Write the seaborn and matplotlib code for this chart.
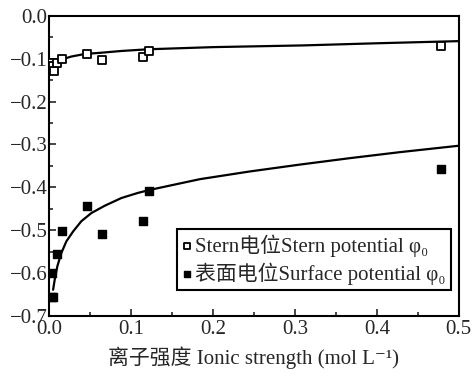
import matplotlib
matplotlib.use("Agg")
import matplotlib.pyplot as plt
import seaborn as sns
from matplotlib.ticker import MultipleLocator

# measured points
stern_x = [0.003, 0.005, 0.006, 0.010, 0.016, 0.046, 0.065, 0.115, 0.122, 0.478]
stern_y = [-0.109, -0.118, -0.129, -0.110, -0.100, -0.088, -0.102, -0.095, -0.081, -0.071]
surf_x = [0.003, 0.005, 0.004, 0.010, 0.016, 0.046, 0.065, 0.115, 0.122, 0.478]
surf_y = [-0.601, -0.655, -0.657, -0.555, -0.502, -0.443, -0.508, -0.478, -0.409, -0.357]

# fitted curves
stern_fit_x = [0.0037, 0.0089, 0.017, 0.027, 0.0435, 0.064, 0.088, 0.121, 0.2, 0.31, 0.4, 0.5]
stern_fit_y = [-0.114, -0.109, -0.101, -0.095, -0.089, -0.086, -0.082, -0.078, -0.073, -0.069, -0.064, -0.059]
surf_fit_x = [0.0049, 0.0069, 0.0101, 0.015, 0.0211, 0.0293, 0.0394, 0.0516, 0.0679,
              0.0882, 0.1085, 0.123, 0.184, 0.245, 0.306, 0.367, 0.428, 0.5]
surf_fit_y = [-0.639, -0.615, -0.584, -0.553, -0.526, -0.503, -0.479, -0.460, -0.443,
              -0.425, -0.413, -0.406, -0.381, -0.363, -0.347, -0.332, -0.318, -0.303]

sns.set_style("ticks")
plt.rcParams["font.family"] = ["Liberation Serif", "DejaVu Serif", "Noto Sans CJK SC"]
plt.rcParams["axes.unicode_minus"] = True

fig = plt.figure(figsize=(4.72, 3.77), dpi=100)
ax = fig.add_axes([0.104, 0.162, 0.868, 0.796])

sns.lineplot(x=stern_fit_x, y=stern_fit_y, ax=ax, color="black", lw=1.6, sort=True)
sns.lineplot(x=surf_fit_x, y=surf_fit_y, ax=ax, color="black", lw=1.6, sort=True)

sns.scatterplot(x=stern_x, y=stern_y, ax=ax, marker="s", s=40, facecolor="white",
                edgecolor="black", linewidth=1.3, label="Stern电位Stern potential φ₀", zorder=3)
sns.scatterplot(x=surf_x, y=surf_y, ax=ax, marker="s", s=40, color="black",
                edgecolor="black", linewidth=1.0, label="表面电位Surface potential φ₀", zorder=3)

ax.set_xlim(0, 0.5)
ax.set_ylim(-0.7, 0.0)
ax.xaxis.set_major_locator(MultipleLocator(0.1))
ax.xaxis.set_minor_locator(MultipleLocator(0.05))
ax.yaxis.set_major_locator(MultipleLocator(0.1))
ax.yaxis.set_minor_locator(MultipleLocator(0.05))
ax.tick_params(which="both", direction="in", top=False, right=False, labelsize=15)
ax.tick_params(axis="x", pad=3)
ax.tick_params(axis="y", pad=1)
ax.tick_params(which="major", length=5, width=1.2)
ax.tick_params(which="minor", length=3, width=1.2)
for sp in ax.spines.values():
    sp.set_linewidth(1.5)
    sp.set_color("black")

ax.set_xlabel("离子强度 Ionic strength (mol L⁻¹)", fontsize=15, labelpad=5)
ax.set_ylabel("")

leg = ax.legend(loc="lower right", bbox_to_anchor=(0.98, 0.087), fontsize=15,
                frameon=True, fancybox=False, edgecolor="black", framealpha=1,
                handlelength=0.4, handletextpad=0.2, borderpad=0.25,
                labelspacing=0.25, borderaxespad=0, markerscale=0.6)
leg.get_frame().set_linewidth(1.5)

fig.savefig("out.png", dpi=100)
